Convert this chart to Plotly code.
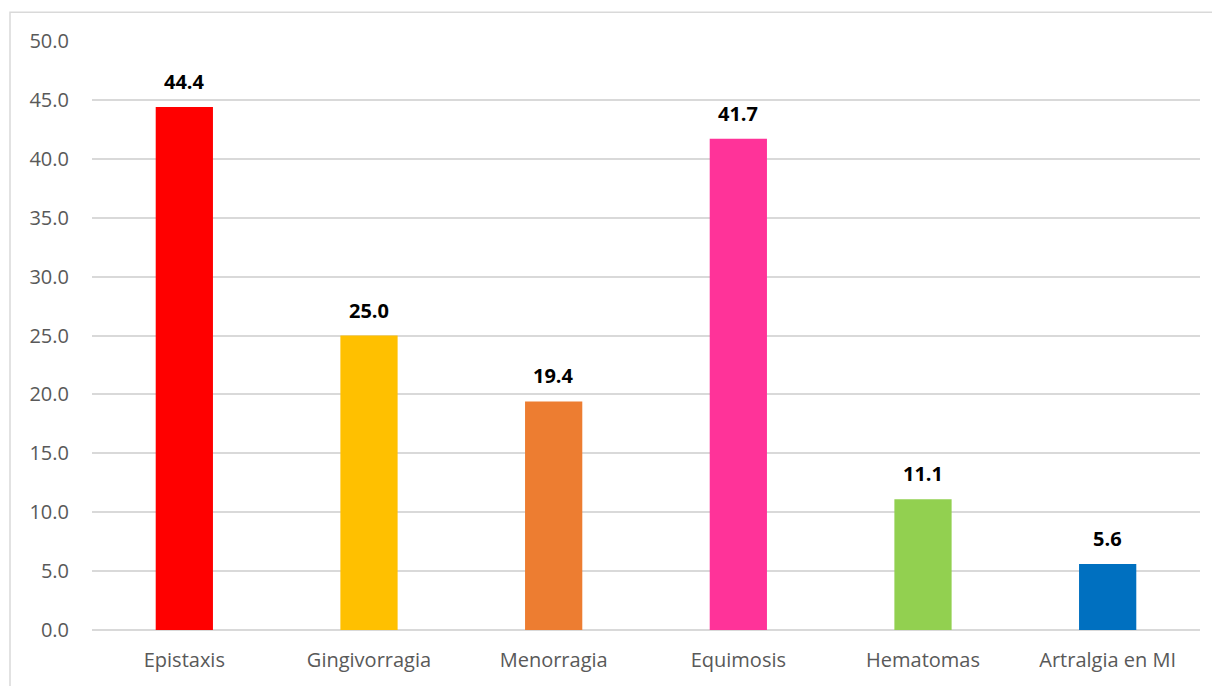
import plotly.graph_objects as go

# Datos del gráfico
categorias = ["Epistaxis", "Gingivorragia", "Menorragia", "Equimosis", "Hematomas", "Artralgia en MI"]
porcentajes = [44.4, 25.0, 19.4, 41.7, 11.1, 5.6]
colores = ["#FF0000", "#FFC000", "#ED7D31", "#FF3399", "#92D050", "#0070C0"]
ticks_y = [0, 5, 10, 15, 20, 25, 30, 35, 40, 45, 50]

FUENTE = "Open Sans, Liberation Sans, sans-serif"

fig = go.Figure()

fig.add_trace(
    go.Bar(
        x=categorias,
        y=porcentajes,
        marker=dict(color=colores, line=dict(width=0)),
        width=0.31,
        hoverinfo="x+y",
    )
)

# Etiquetas de datos en negrita sobre cada barra
for cat, val in zip(categorias, porcentajes):
    fig.add_annotation(
        x=cat, y=val,
        text=f"<b>{val:.1f}</b>",
        showarrow=False,
        yanchor="bottom",
        yshift=10,
        font=dict(family=FUENTE, size=20, color="#000000"),
    )

# Marco exterior del gráfico (como en Excel)
fig.add_shape(
    type="rect", xref="paper", yref="paper",
    x0=-0.074, x1=1.2, y0=-0.3, y1=1.049,
    line=dict(color="#D9D9D9", width=1.5),
    fillcolor="rgba(0,0,0,0)",
    layer="below",
)

# la página añade 8 px de margen, así que la figura es algo más pequeña
fig.update_layout(
    width=1212,
    height=678,
    margin=dict(l=84, r=20, t=33, b=56),
    paper_bgcolor="white",
    plot_bgcolor="white",
    showlegend=False,
    font=dict(family=FUENTE, size=20, color="#595959"),
    xaxis=dict(
        showline=False,
        showgrid=False,
        ticks="",
        tickfont=dict(size=20, color="#595959"),
        ticklabelstandoff=16,
    ),
    yaxis=dict(
        range=[0, 50],
        tickvals=ticks_y,
        tickformat=".1f",
        showgrid=True,
        gridcolor="#D9D9D9",
        gridwidth=1.5,
        zeroline=True,
        zerolinecolor="#D9D9D9",
        zerolinewidth=1.5,
        showline=False,
        ticks="",
        tickfont=dict(size=20, color="#595959"),
        ticklabelstandoff=22,
    ),
)

fig.write_html("out.html")
